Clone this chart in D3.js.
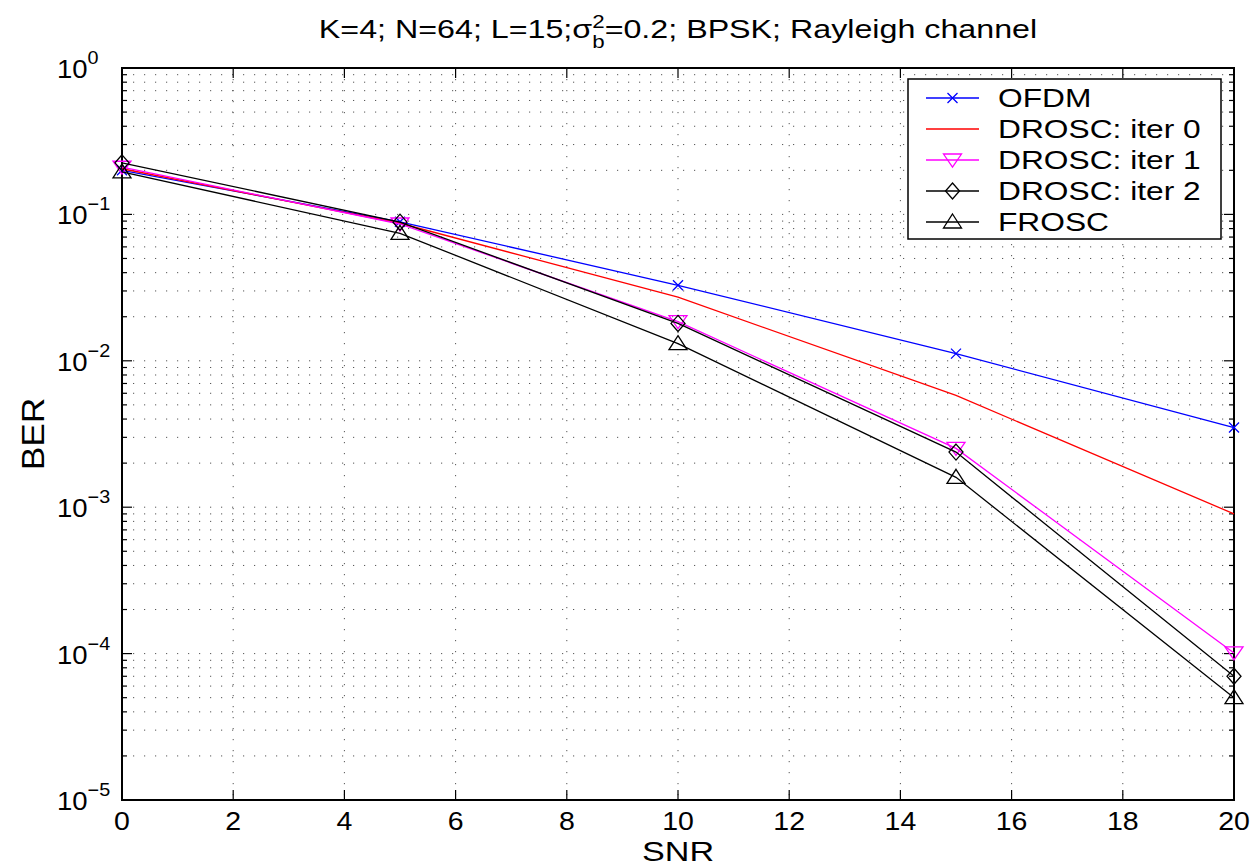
<!DOCTYPE html>
<html><head><meta charset="utf-8">
<script src="https://cdn.jsdelivr.net/npm/d3@7"></script>
<style>body{margin:0;background:#fff;} svg{display:block;}</style>
</head><body>
<script>
// ---- data ----
const snr = [0, 5, 10, 15, 20];
const ofdm   = [0.200, 0.089, 0.0328, 0.0112, 0.0035];
const drosc0 = [0.205, 0.087, 0.0272, 0.0058, 0.0009];
const drosc1 = [0.210, 0.086, 0.0185, 0.00252, 0.000101];
const drosc2 = [0.225, 0.0885, 0.0180, 0.00238, 0.00007];
const frosc  = [0.195, 0.0743, 0.0131, 0.0016, 0.00005];
const seriesNames = ["OFDM", "DROSC: iter 0", "DROSC: iter 1", "DROSC: iter 2", "FROSC"];
const xTicks = [0, 2, 4, 6, 8, 10, 12, 14, 16, 18, 20];
const yExponents = [0, -1, -2, -3, -4, -5];

const series = [
  {name: seriesNames[0], values: ofdm,   color: "#0000ff", marker: "x"},
  {name: seriesNames[1], values: drosc0, color: "#ff0000", marker: null},
  {name: seriesNames[2], values: drosc1, color: "#ff00ff", marker: "tdown"},
  {name: seriesNames[3], values: drosc2, color: "#000000", marker: "diamond"},
  {name: seriesNames[4], values: frosc,  color: "#000000", marker: "tup"}
];

const W = 1254, H = 866;
const L = 122, R = 1234, T = 68, B = 800;
const SX = 1.14; // horizontal stretch of text
const FONT = "Liberation Sans, Arial, Helvetica, sans-serif";

const svg = d3.select("body").append("svg").attr("width", W).attr("height", H)
  .style("font-family", FONT);

const x = d3.scaleLinear().domain([0, 20]).range([L, R]);
const y = d3.scaleLog().domain([1e-5, 1]).range([B, T]);

function stext(parent, px, py, str, size, anchor, rot, sx) {
  const g = parent.append("g").attr("transform",
    `translate(${px},${py})` + (rot ? ` rotate(${rot})` : "") + ` scale(${sx || SX},1)`);
  return g.append("text").attr("font-size", size).attr("text-anchor", anchor || "start")
    .attr("fill", "#000").text(str);
}

// ---- grid ----
const grid = svg.append("g").attr("stroke", "#555").attr("stroke-width", 1)
  .attr("stroke-dasharray", "1.2,9.8");
const yGridVals = [];
for (let e = -5; e < 0; e++) for (let m = 1; m <= 9; m++) yGridVals.push(m * Math.pow(10, e));
yGridVals.push(1);
yGridVals.forEach(v => {
  if (v === 1e-5 || v === 1) return;
  grid.append("line").attr("x1", L).attr("x2", R).attr("y1", y(v)).attr("y2", y(v));
});
xTicks.forEach(t => {
  if (t === 0 || t === 20) return;
  grid.append("line").attr("y1", T).attr("y2", B).attr("x1", x(t)).attr("x2", x(t));
});

// ---- ticks (inward, MATLAB style) ----
const tk = svg.append("g").attr("stroke", "#000").attr("stroke-width", 1.2);
xTicks.forEach(t => {
  tk.append("line").attr("x1", x(t)).attr("x2", x(t)).attr("y1", B).attr("y2", B - 10);
  tk.append("line").attr("x1", x(t)).attr("x2", x(t)).attr("y1", T).attr("y2", T + 10);
});
yGridVals.forEach(v => {
  const major = Math.abs(Math.log10(v) - Math.round(Math.log10(v))) < 1e-9;
  const len = major ? 10 : 5;
  tk.append("line").attr("x1", L).attr("x2", L + len).attr("y1", y(v)).attr("y2", y(v));
  tk.append("line").attr("x1", R).attr("x2", R - len).attr("y1", y(v)).attr("y2", y(v));
});

// ---- axes box ----
svg.append("rect").attr("x", L).attr("y", T).attr("width", R - L).attr("height", B - T)
  .attr("fill", "none").attr("stroke", "#000").attr("stroke-width", 2);

// ---- tick labels ----
xTicks.forEach(t => stext(svg, x(t), 830, String(t), 25, "middle"));
yExponents.forEach(e => {
  const py = y(Math.pow(10, e)) + 10;
  const g = svg.append("g").attr("transform", `translate(57,${py}) scale(1.1,1)`);
  const tx = g.append("text").attr("font-size", 25).attr("fill", "#000");
  tx.append("tspan").text("10");
  tx.append("tspan").attr("font-size", 18).attr("dy", -14).text(e === 0 ? "0" : "\u2212" + (-e));
});

// ---- axis labels & title ----
stext(svg, x(10), 861, "SNR", 28, "middle", 0, 1.22);
stext(svg, 44, (T + B) / 2, "BER", 31, "middle", -90);
{
  const g = svg.append("g").attr("transform", `translate(${x(10)},38) scale(1.24,1)`);
  const t = g.append("text").attr("font-size", 26).attr("text-anchor", "middle").attr("fill", "#000");
  t.append("tspan").text("K=4; N=64; L=15;\u03c3");
  t.append("tspan").attr("font-size", 18).attr("dy", -10).text("2");
  t.append("tspan").attr("font-size", 18).attr("dx", -10).attr("dy", 20).text("b");
  t.append("tspan").attr("dy", -10).text("=0.2; BPSK; Rayleigh channel");
}

// ---- markers ----
function drawMarker(g, kind, cx, cy, color) {
  const p = d3.path();
  if (kind === "x") {
    p.moveTo(cx - 5, cy - 5); p.lineTo(cx + 5, cy + 5);
    p.moveTo(cx - 5, cy + 5); p.lineTo(cx + 5, cy - 5);
  } else if (kind === "tdown") {
    p.moveTo(cx - 9, cy - 6); p.lineTo(cx + 9, cy - 6); p.lineTo(cx, cy + 7); p.closePath();
  } else if (kind === "diamond") {
    p.moveTo(cx, cy - 8); p.lineTo(cx + 7, cy); p.lineTo(cx, cy + 8); p.lineTo(cx - 7, cy); p.closePath();
  } else if (kind === "tup") {
    p.moveTo(cx, cy - 8); p.lineTo(cx + 9, cy + 6); p.lineTo(cx - 9, cy + 6); p.closePath();
  } else return;
  g.append("path").attr("d", p.toString()).attr("fill", "none")
    .attr("stroke", color).attr("stroke-width", 1.3);
}

// ---- lines ----
const line = d3.line().x((d, i) => x(snr[i])).y(d => y(d));
const plot = svg.append("g");
series.forEach(s => {
  plot.append("path").datum(s.values).attr("d", line).attr("fill", "none")
    .attr("stroke", s.color).attr("stroke-width", 1.3);
  if (s.marker) s.values.forEach((v, i) => drawMarker(plot, s.marker, x(snr[i]), y(v), s.color));
});

// ---- legend ----
const lg = svg.append("g");
lg.append("rect").attr("x", 908).attr("y", 79).attr("width", 313).attr("height", 160)
  .attr("fill", "#fff").attr("stroke", "#000").attr("stroke-width", 1.5);
series.forEach((s, i) => {
  const cy = 98 + i * 31;
  lg.append("line").attr("x1", 926).attr("x2", 979).attr("y1", cy).attr("y2", cy)
    .attr("stroke", s.color).attr("stroke-width", 1.3);
  if (s.marker) drawMarker(lg, s.marker, 952.5, cy, s.color);
  stext(lg, 998, cy + 9, s.name, 26, "start", 0, 1.22);
});
</script>
</body></html>
